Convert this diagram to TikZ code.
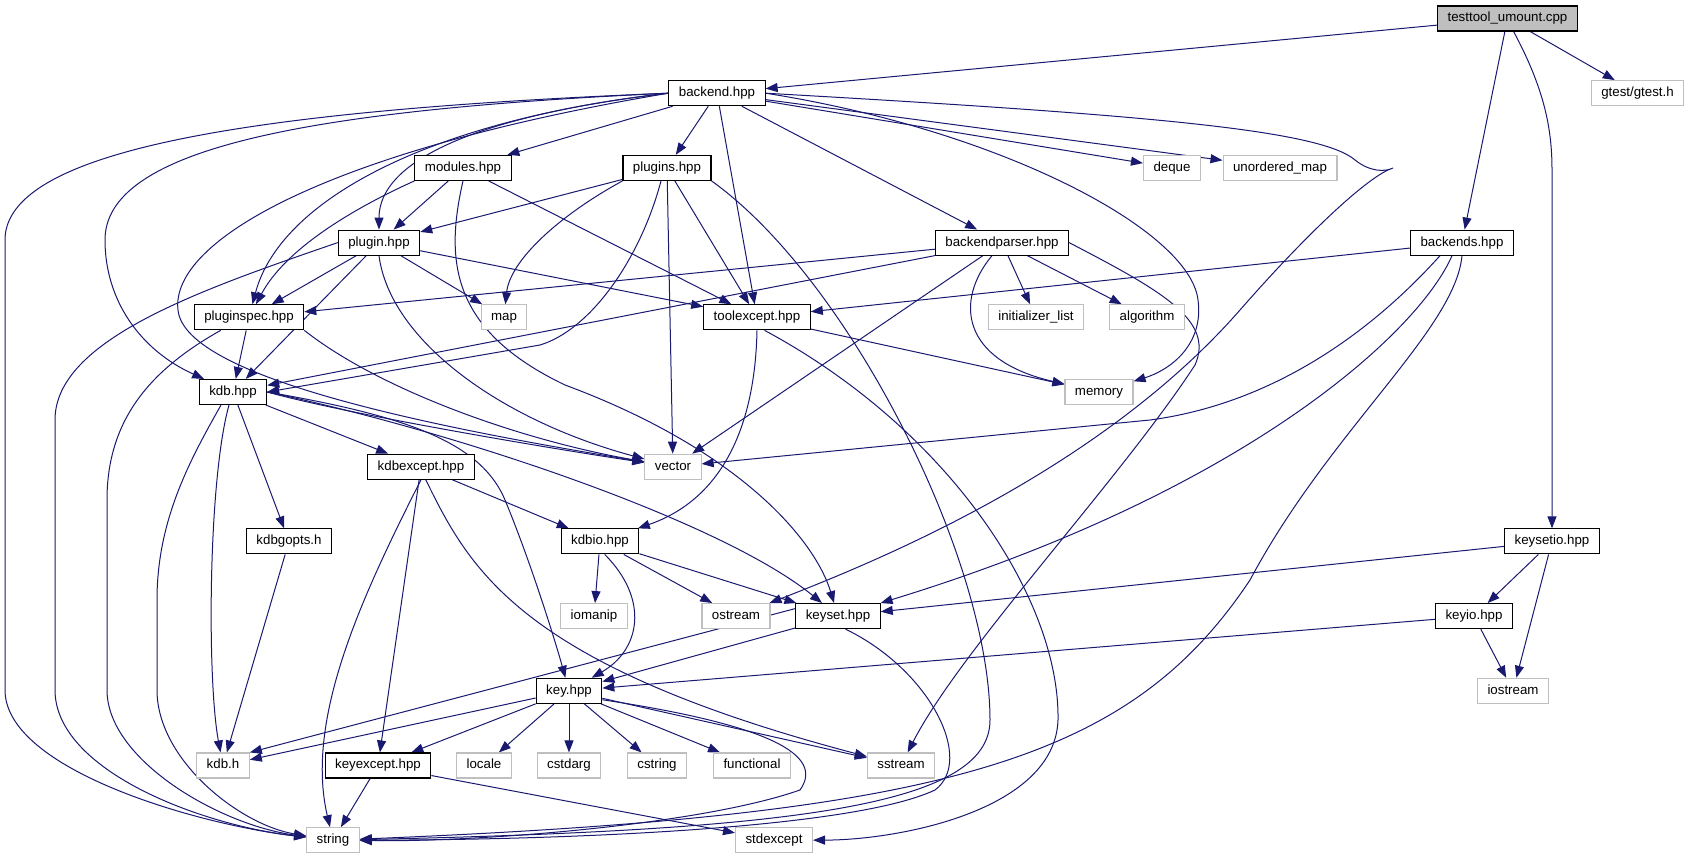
\documentclass[tikz,border=0pt]{standalone}
\usepackage{fontspec}
\setmainfont{Liberation Sans}
\usetikzlibrary{arrows.meta}
\definecolor{edgeblue}{HTML}{191970}
\definecolor{grey75}{HTML}{BFBFBF}
\pgfdeclarelayer{bg}
\pgfsetlayers{bg,main}
\tikzset{
  hfile/.style={draw=black, line width=1.1pt, fill=white, inner xsep=10pt,
    inner ysep=0pt, minimum height=25pt, text height=9.6pt, text depth=2.7pt,
    font=\fontsize{13.3}{16}\selectfont},
  sfile/.style={hfile, draw=grey75},
  cfile/.style={hfile, fill=grey75},
  incl/.style={draw=edgeblue, line width=1pt, -{Triangle[length=12pt,width=9pt]}}
}
\begin{document}
\begin{tikzpicture}[x=1pt,y=1pt]
\useasboundingbox (0,0) rectangle (1690,-859);
% rows are 74.7 apart
\node[cfile] (testtool) at (1507.5,-18.5) {testtool\_umount.cpp};
\node[hfile] (backend) at (717,-93.2) {backend.hpp};
\node[sfile] (gtest) at (1637.5,-93.2) {gtest/gtest.h};
\node[hfile] (modules) at (463,-167.9) {modules.hpp};
\node[hfile] (plugins) at (667,-167.9) {plugins.hpp};
\node[sfile] (deque) at (1172,-167.9) {deque};
\node[sfile] (umap) at (1280,-167.9) {unordered\_map};
\coordinate (bend) at (1393,-168);
\node[hfile] (plugin) at (379,-242.6) {plugin.hpp};
\node[hfile] (bparser) at (1002,-242.6) {backendparser.hpp};
\node[hfile] (backends) at (1462,-242.6) {backends.hpp};
\node[hfile] (pluginspec) at (249,-317.3) {pluginspec.hpp};
\node[sfile] (map) at (504,-317.3) {map};
\node[hfile] (toolexcept) at (757,-317.3) {toolexcept.hpp};
\node[sfile] (initlist) at (1036,-317.3) {initializer\_list};
\node[sfile] (algorithm) at (1147,-317.3) {algorithm};
\node[hfile] (kdbhpp) at (233,-392) {kdb.hpp};
\node[sfile] (memory) at (1099,-392) {memory};
\node[hfile] (kdbexcept) at (421,-466.7) {kdbexcept.hpp};
\node[sfile] (vector) at (673,-466.7) {vector};
\node[hfile] (kdbgopts) at (289,-541.4) {kdbgopts.h};
\node[hfile] (kdbio) at (600,-541.4) {kdbio.hpp};
\node[hfile] (keysetio) at (1552,-541.4) {keysetio.hpp};
\node[sfile] (iomanip) at (594,-616.1) {iomanip};
\node[sfile] (ostream) at (736,-616.1) {ostream};
\node[hfile] (keyset) at (838,-616.1) {keyset.hpp};
\node[hfile] (keyio) at (1474,-616.1) {keyio.hpp};
\node[hfile] (key) at (569,-690.8) {key.hpp};
\node[sfile] (iostream) at (1513,-690.8) {iostream};
\node[sfile] (kdbh) at (223,-765.5) {kdb.h};
\node[hfile] (keyexcept) at (378,-765.5) {keyexcept.hpp};
\node[sfile] (locale) at (484,-765.5) {locale};
\node[sfile] (cstdarg) at (569,-765.5) {cstdarg};
\node[sfile] (cstring) at (657,-765.5) {cstring};
\node[sfile] (functional) at (752,-765.5) {functional};
\node[sfile] (sstream) at (901,-765.5) {sstream};
\node[sfile] (string) at (333,-840.2) {string};
\node[sfile] (stdexcept) at (774,-840.2) {stdexcept};

\begin{pgfonlayer}{bg}
% testtool_umount.cpp
\draw[incl] (testtool) -- (backend);
\draw[incl] (testtool) -- (gtest);
\draw[incl] (testtool) -- (backends);
\draw[incl] (testtool.-65) .. controls (1545,-90) and (1552,-130) .. (1552,-170) -- (keysetio);
% backend.hpp
\draw[incl] (backend) -- (modules);
\draw[incl] (backend) -- (plugins);
\draw[incl] (backend) -- (bparser);
\draw[incl] (backend) -- (toolexcept);
\draw[incl] (backend) -- (deque);
\draw[incl] (backend) -- (umap);
\draw[incl] (backend.west) .. controls (480,-115) and (379,-160) .. (plugin);
\draw[incl] (backend.west) .. controls (430,-120) and (280,-200) .. (pluginspec);
\draw[incl] (backend.west) .. controls (300,-110) and (105,-150) .. (105,-240)
  .. controls (105,-300) and (140,-350) .. (kdbhpp);
\draw[incl] (backend.west) .. controls (330,-150) and (170,-240) .. (178,-310)
  .. controls (185,-380) and (450,-430) .. (vector);
\draw[incl] (backend.west) .. controls (250,-110) and (5,-150) .. (5,-240) -- (5,-690)
  .. controls (5,-770) and (200,-825) .. (string);
\draw[incl] (backend.east) .. controls (1000,-130) and (1190,-230) .. (1198,-300)
  .. controls (1204,-345) and (1170,-370) .. (memory);
\draw[incl] (backend.east) .. controls (1150,-115) and (1320,-130) .. (1355,-160)
  .. controls (1370,-172) and (1385,-172) .. (bend)
  .. controls (1370,-175) and (1310,-230) .. (1240,-310)
  .. controls (1100,-470) and (880,-560) .. (ostream);
% modules.hpp
\draw[incl] (modules) -- (plugin);
\draw[incl] (modules) -- (toolexcept);
\draw[incl] (modules.south west) .. controls (350,-210) and (285,-250) .. (pluginspec);
\draw[incl] (modules.south) .. controls (445,-260) and (450,-330) .. (565,-385)
  .. controls (740,-450) and (815,-540) .. (keyset);
% plugins.hpp
\draw[incl] (plugins) -- (plugin);
\draw[incl] (plugins) -- (vector);
\draw[incl] (plugins) -- (toolexcept);
\draw[incl] (plugins.south west) .. controls (560,-215) and (510,-260) .. (map);
\draw[incl] ([xshift=-6pt]plugins.south) .. controls (640,-260) and (590,-330) .. (540,-345)
  -- (kdbhpp.east);
\draw[incl] (plugins.south east) .. controls (850,-280) and (990,-560) .. (990,-720)
  .. controls (990,-805) and (800,-830) .. (string);
% plugin.hpp
\draw[incl] (plugin) -- (pluginspec);
\draw[incl] (plugin) -- (kdbhpp);
\draw[incl] (plugin) -- (map);
\draw[incl] (plugin) -- (toolexcept);
\draw[incl] (plugin.west) .. controls (200,-290) and (55,-340) .. (55,-420) -- (55,-690)
  .. controls (55,-770) and (200,-825) .. (string);
\draw[incl] (plugin.south) .. controls (390,-340) and (500,-420) .. (vector);
% pluginspec.hpp
\draw[incl] (pluginspec) -- (kdbhpp);
\draw[incl] ([xshift=27pt]pluginspec.south west) .. controls (150,-370) and (107,-420) .. (107,-500)
  -- (107,-690) .. controls (107,-760) and (220,-825) .. (string);
\draw[incl] (pluginspec.south east) .. controls (380,-390) and (520,-440) .. (vector);
% kdb.hpp
\draw[incl] (kdbhpp) -- (kdbexcept);
\draw[incl] (kdbhpp) -- (kdbgopts);
\draw[incl] ([xshift=-4pt]kdbhpp.south) .. controls (208,-480) and (207,-680) .. (kdbh);
\draw[incl] ([xshift=-12pt]kdbhpp.south) .. controls (190,-460) and (157,-520) .. (157,-600)
  -- (157,-690) .. controls (157,-760) and (240,-825) .. (string);
\draw[incl] (kdbhpp.east) .. controls (350,-415) and (560,-450) .. (vector);
\draw[incl] (kdbhpp.east) .. controls (400,-415) and (480,-440) .. (505,-500)
  .. controls (530,-560) and (555,-640) .. (key);
\draw[incl] (kdbhpp.east) .. controls (450,-430) and (720,-520) .. (keyset);
% kdbexcept.hpp
\draw[incl] (kdbexcept) -- (kdbio);
\draw[incl] (kdbexcept) -- (keyexcept);
\draw[incl] (kdbexcept.south) .. controls (360,-600) and (305,-720) .. (string);
\draw[incl] (kdbexcept.-70) .. controls (470,-570) and (520,-665) .. (sstream);
\draw[incl] (kdbgopts) -- (kdbh);
% toolexcept.hpp
\draw[incl] (toolexcept) -- (memory);
\draw[incl] (toolexcept.south) .. controls (755,-430) and (720,-500) .. (kdbio);
\draw[incl] (toolexcept.-60) .. controls (950,-430) and (1060,-600) .. (1058,-720)
  .. controls (1055,-810) and (900,-840) .. (stdexcept);
% backendparser.hpp
\draw[incl] (bparser) -- (pluginspec);
\draw[incl] (bparser) -- (kdbhpp);
\draw[incl] (bparser) -- (vector);
\draw[incl] (bparser) -- (initlist);
\draw[incl] (bparser) -- (algorithm);
\draw[incl] ([xshift=-10pt]bparser.south) .. controls (955,-300) and (960,-360) .. (memory);
\draw[incl] (bparser.east) .. controls (1160,-290) and (1215,-320) .. (1195,-365)
  .. controls (1120,-480) and (960,-650) .. (sstream);
% backends.hpp
\draw[incl] (backends) -- (toolexcept);
\draw[incl] ([xshift=30pt]backends.south west) .. controls (1400,-300) and (1300,-400) .. (1150,-420)
  -- (vector);
\draw[incl] ([xshift=-10pt]backends.south) .. controls (1420,-330) and (1250,-490) .. (keyset);
\draw[incl] (backends.south) .. controls (1455,-330) and (1330,-430) .. (1250,-580)
  .. controls (1130,-760) and (950,-815) .. (string);
% keysetio.hpp, keyio.hpp
\draw[incl] (keysetio) -- (keyset);
\draw[incl] (keysetio) -- (keyio);
\draw[incl] (keysetio) -- (iostream);
\draw[incl] (keyio) -- (key);
\draw[incl] (keyio) -- (iostream);
% kdbio.hpp
\draw[incl] (kdbio) -- (iomanip);
\draw[incl] (kdbio) -- (ostream);
\draw[incl] (kdbio) -- (keyset);
\draw[incl] (kdbio.-70) .. controls (650,-600) and (640,-650) .. (key);
% keyset.hpp
\draw[incl] (keyset.170) -- (kdbh.north east);
\draw[incl] (keyset) -- (key);
\draw[incl] (keyset.-60) .. controls (930,-670) and (975,-760) .. (935,-790)
  .. controls (850,-830) and (550,-840) .. (string);
% key.hpp
\draw[incl] (key) -- (kdbh);
\draw[incl] (key) -- (keyexcept);
\draw[incl] (key) -- (locale);
\draw[incl] (key) -- (cstdarg);
\draw[incl] (key) -- (cstring);
\draw[incl] (key) -- (functional);
\draw[incl] (key) -- (sstream);
\draw[incl] (key.-15) .. controls (770,-725) and (825,-755) .. (800,-790)
  .. controls (700,-825) and (480,-842) .. (string);
% keyexcept.hpp
\draw[incl] (keyexcept) -- (string);
\draw[incl] (keyexcept) -- (stdexcept);
\end{pgfonlayer}
\end{tikzpicture}
\end{document}
